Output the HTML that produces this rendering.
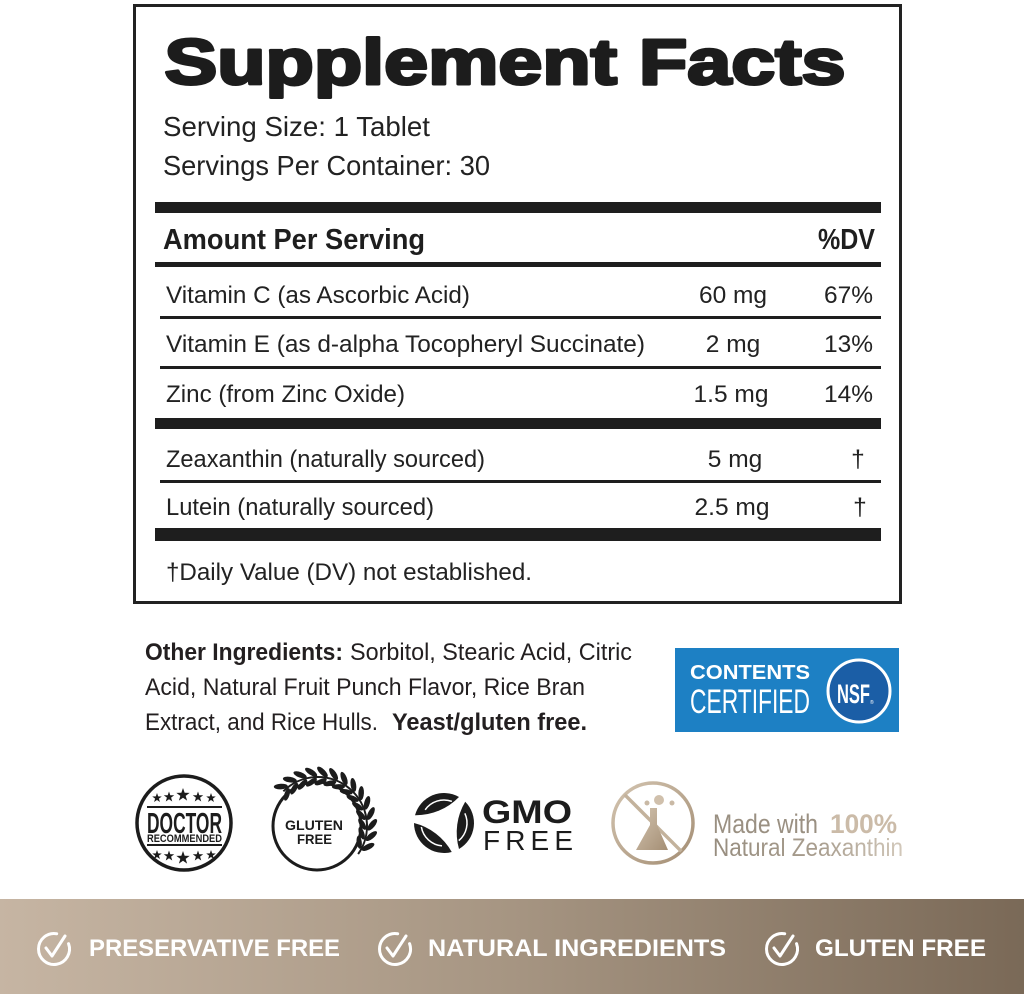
<!DOCTYPE html>
<html><head><meta charset="utf-8"><style>
html,body{margin:0;padding:0;background:#fff;width:1024px;height:994px;overflow:hidden}
svg{display:block}
</style></head><body>
<svg width="1024" height="994" viewBox="0 0 1024 994" xmlns="http://www.w3.org/2000/svg" font-family="'Liberation Sans', Arial, sans-serif">
<defs>
<linearGradient id="band" x1="0" y1="0" x2="1" y2="0">
<stop offset="0" stop-color="#c6b5a3"/><stop offset="0.5" stop-color="#a69582"/><stop offset="1" stop-color="#7a6957"/>
</linearGradient>
<linearGradient id="natz" gradientUnits="userSpaceOnUse" x1="713" y1="0" x2="903" y2="0">
<stop offset="0" stop-color="#978d7f"/><stop offset="0.55" stop-color="#a89d8e"/><stop offset="1" stop-color="#d2c8ba"/>
</linearGradient>
<linearGradient id="tan" x1="0" y1="0" x2="1" y2="1">
<stop offset="0" stop-color="#d3c4b0"/><stop offset="1" stop-color="#a48e74"/>
</linearGradient>
<polygon id="st" points="0,-1 0.235,-0.324 0.951,-0.309 0.380,0.124 0.588,0.809 0,0.4 -0.588,0.809 -0.380,0.124 -0.951,-0.309 -0.235,-0.324"/>
<g id="lf">
<ellipse cx="372" cy="821" rx="7" ry="2.8" transform="rotate(-55 372 821)"/>
<ellipse cx="362" cy="821" rx="6.5" ry="2.6" transform="rotate(55 362 821)"/>
</g>
</defs>

<!-- Supplement facts box -->
<rect x="134.5" y="5.5" width="766" height="597" fill="none" stroke="#222" stroke-width="3"/>
<text x="164.5" y="84" font-size="64" font-weight="700" textLength="681" lengthAdjust="spacingAndGlyphs" fill="#1c1c1c" stroke="#1c1c1c" stroke-width="3" stroke-linejoin="round">Supplement Facts</text>
<text x="163" y="136" font-size="27.3" fill="#222" textLength="267" lengthAdjust="spacingAndGlyphs">Serving Size: 1 Tablet</text>
<text x="163" y="175" font-size="27.3" fill="#222" textLength="327" lengthAdjust="spacingAndGlyphs">Servings Per Container: 30</text>

<rect x="155" y="202" width="726" height="11" fill="#1e1e1e"/>
<text x="163" y="249" font-size="29" font-weight="700" fill="#1e1e1e" textLength="262" lengthAdjust="spacingAndGlyphs">Amount Per Serving</text>
<text x="875" y="249" font-size="29" font-weight="700" fill="#1e1e1e" text-anchor="end" textLength="57" lengthAdjust="spacingAndGlyphs">%DV</text>
<rect x="155" y="262" width="726" height="5" fill="#1e1e1e"/>

<g font-size="24.5" fill="#222">
<text x="166" y="303" textLength="304" lengthAdjust="spacingAndGlyphs">Vitamin C (as Ascorbic Acid)</text>
<text x="733" y="303" text-anchor="middle">60 mg</text>
<text x="873" y="303" text-anchor="end">67%</text>
<text x="166" y="352" textLength="479" lengthAdjust="spacingAndGlyphs">Vitamin E (as d-alpha Tocopheryl Succinate)</text>
<text x="733" y="352" text-anchor="middle">2 mg</text>
<text x="873" y="352" text-anchor="end">13%</text>
<text x="166" y="402" textLength="239" lengthAdjust="spacingAndGlyphs">Zinc (from Zinc Oxide)</text>
<text x="731" y="402" text-anchor="middle">1.5 mg</text>
<text x="873" y="402" text-anchor="end">14%</text>
<text x="166" y="467" textLength="319" lengthAdjust="spacingAndGlyphs">Zeaxanthin (naturally sourced)</text>
<text x="735" y="467" text-anchor="middle">5 mg</text>
<text x="858" y="467" text-anchor="middle">†</text>
<text x="166" y="515" textLength="268" lengthAdjust="spacingAndGlyphs">Lutein (naturally sourced)</text>
<text x="732" y="515" text-anchor="middle">2.5 mg</text>
<text x="860" y="515" text-anchor="middle">†</text>
<text x="166" y="580" textLength="366" lengthAdjust="spacingAndGlyphs">†Daily Value (DV) not established.</text>
</g>
<rect x="160" y="316" width="721" height="3" fill="#1e1e1e"/>
<rect x="160" y="366" width="721" height="3" fill="#1e1e1e"/>
<rect x="155" y="418" width="726" height="11" fill="#1e1e1e"/>
<rect x="160" y="480" width="721" height="3" fill="#1e1e1e"/>
<rect x="155" y="528" width="726" height="13" fill="#1e1e1e"/>

<!-- Other ingredients -->
<g font-size="24" fill="#231f20">
<text x="145" y="660" font-weight="700" textLength="198" lengthAdjust="spacingAndGlyphs">Other Ingredients:</text>
<text x="350" y="660" textLength="282" lengthAdjust="spacingAndGlyphs">Sorbitol, Stearic Acid, Citric</text>
<text x="145" y="695" textLength="440" lengthAdjust="spacingAndGlyphs">Acid, Natural Fruit Punch Flavor, Rice Bran</text>
<text x="145" y="730" textLength="233" lengthAdjust="spacingAndGlyphs">Extract, and Rice Hulls.</text>
<text x="392" y="730" font-weight="700" textLength="195" lengthAdjust="spacingAndGlyphs">Yeast/gluten free.</text>
</g>

<!-- NSF badge -->
<rect x="675" y="648" width="224" height="84" fill="#1d80c4"/>
<text x="690" y="679" font-size="20" font-weight="700" fill="#fff" textLength="120" lengthAdjust="spacingAndGlyphs">CONTENTS</text>
<text x="690" y="713" font-size="34" fill="#fff" textLength="120" lengthAdjust="spacingAndGlyphs">CERTIFIED</text>
<circle cx="859" cy="691" r="31" fill="#1b5ea6" stroke="#fff" stroke-width="3"/>
<text x="837" y="703" font-size="27" font-weight="700" fill="#fff" textLength="33" lengthAdjust="spacingAndGlyphs">NSF</text>
<text x="870" y="704" font-size="5" fill="#fff">®</text>

<!-- Doctor recommended -->
<circle cx="184" cy="823" r="47" fill="none" stroke="#1c1c1c" stroke-width="3.5"/>
<g fill="#1c1c1c">
<use href="#st" transform="translate(157,798) scale(5)"/>
<use href="#st" transform="translate(169,797) scale(5.5)"/>
<use href="#st" transform="translate(183,795) scale(7)"/>
<use href="#st" transform="translate(198,797) scale(5.5)"/>
<use href="#st" transform="translate(211,798) scale(5)"/>
<use href="#st" transform="translate(157,855) scale(5)"/>
<use href="#st" transform="translate(169,856) scale(5.5)"/>
<use href="#st" transform="translate(183,858) scale(7)"/>
<use href="#st" transform="translate(198,856) scale(5.5)"/>
<use href="#st" transform="translate(211,855) scale(5)"/>
<rect x="147" y="806" width="75" height="2"/>
<rect x="147" y="844" width="75" height="2"/>
<text x="147" y="833" font-size="29" font-weight="700" textLength="75" lengthAdjust="spacingAndGlyphs">DOCTOR</text>
<text x="147" y="842" font-size="11" font-weight="700" textLength="75" lengthAdjust="spacingAndGlyphs">RECOMMENDED</text>
</g>

<!-- Gluten free -->
<circle cx="317" cy="826" r="44" fill="none" stroke="#1c1c1c" stroke-width="3"/>
<path d="M283.35,791.35 A49,49 0 0 1 358.14,854.1" fill="none" stroke="#1c1c1c" stroke-width="2"/>
<g fill="#1c1c1c">
<use href="#lf" transform="rotate(-128 318 826)"/>
<use href="#lf" transform="rotate(-116 318 826)"/>
<use href="#lf" transform="rotate(-104 318 826)"/>
<use href="#lf" transform="rotate(-92 318 826)"/>
<use href="#lf" transform="rotate(-80 318 826)"/>
<use href="#lf" transform="rotate(-68 318 826)"/>
<use href="#lf" transform="rotate(-56 318 826)"/>
<use href="#lf" transform="rotate(-44 318 826)"/>
<use href="#lf" transform="rotate(-32 318 826)"/>
<use href="#lf" transform="rotate(-20 318 826)"/>
<use href="#lf" transform="rotate(-8 318 826)"/>
<use href="#lf" transform="rotate(4 318 826)"/>
<use href="#lf" transform="rotate(16 318 826)"/>
<use href="#lf" transform="rotate(28 318 826)"/>
<text x="285" y="830" font-size="14" font-weight="700" textLength="58" lengthAdjust="spacingAndGlyphs">GLUTEN</text>
<text x="297" y="844" font-size="14" font-weight="700" textLength="35" lengthAdjust="spacingAndGlyphs">FREE</text>
</g>

<!-- GMO free -->
<g fill="#1c1c1c">
<path d="M415.02,815.24 A30,30 0 0 1 459,797.02 A60,60 0 0 1 415.02,815.24 Z"/>
<path d="M465.21,801.79 A30,30 0 0 1 459,848.98 A60,60 0 0 1 465.21,801.79 Z"/>
<path d="M451.76,851.98 A30,30 0 0 1 414,823 A60,60 0 0 1 451.76,851.98 Z"/>
</g>
<g fill="none" stroke="#fff" stroke-width="1.5">
<path d="M425.16,809.81 A23,23 0 0 1 451.87,801.39"/>
<path d="M464.85,813.28 A23,23 0 0 1 458.78,840.62"/>
<path d="M442,845.91 A23,23 0 0 1 421.35,826.99"/>
</g>
<text x="482" y="823" font-size="32" font-weight="700" fill="#1c1c1c" textLength="90" lengthAdjust="spacingAndGlyphs">GMO</text>
<text x="483" y="850" font-size="28" fill="#1c1c1c" textLength="90" lengthAdjust="spacing">FREE</text>

<!-- Natural zeaxanthin -->
<circle cx="653" cy="823" r="40" fill="none" stroke="url(#tan)" stroke-width="3.5"/>
<line x1="624.7" y1="794.7" x2="681.3" y2="851.3" stroke="#c3b29c" stroke-width="3.5"/>
<path d="M650,808 L657,808 L657,825 L668,850 L636,850 L650,825 Z" fill="url(#tan)"/>
<circle cx="659" cy="800" r="5" fill="#d0c0ac"/>
<circle cx="647" cy="803" r="2.5" fill="#c9b9a5"/>
<circle cx="672" cy="803" r="2.5" fill="#c9b9a5"/>
<text x="713" y="833" font-size="27" fill="#9a9082" textLength="105" lengthAdjust="spacingAndGlyphs">Made with</text>
<text x="830" y="833" font-size="27" font-weight="700" fill="#cbbba8" textLength="67" lengthAdjust="spacingAndGlyphs">100%</text>
<text x="713" y="856" font-size="25" fill="url(#natz)" textLength="190" lengthAdjust="spacingAndGlyphs">Natural Zeaxanthin</text>

<!-- Bottom band -->
<rect x="0" y="899" width="1024" height="95" fill="url(#band)"/>
<g fill="none" stroke="#fff" stroke-width="3" stroke-linecap="round" stroke-linejoin="round">
<path d="M68.57,943.7 A15.5,15.5 0 1 1 56.69,933.74"/>
<path d="M46,948 L52,956 L65,936"/>
<path d="M409.57,943.7 A15.5,15.5 0 1 1 397.69,933.74"/>
<path d="M387,948 L393,956 L406,936"/>
<path d="M796.57,943.7 A15.5,15.5 0 1 1 784.69,933.74"/>
<path d="M774,948 L780,956 L793,936"/>
</g>
<g fill="#fff" font-size="24" font-weight="700">
<text x="89" y="956" textLength="251" lengthAdjust="spacingAndGlyphs">PRESERVATIVE FREE</text>
<text x="428" y="956" textLength="298" lengthAdjust="spacingAndGlyphs">NATURAL INGREDIENTS</text>
<text x="815" y="956" textLength="171" lengthAdjust="spacingAndGlyphs">GLUTEN FREE</text>
</g>
</svg>
</body></html>
